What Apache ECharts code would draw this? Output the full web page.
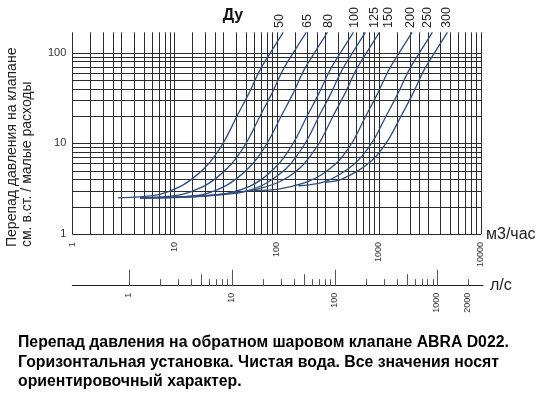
<!DOCTYPE html>
<html><head><meta charset="utf-8">
<script src="https://cdn.jsdelivr.net/npm/echarts@6/dist/echarts.min.js"></script>
<style>html,body{margin:0;padding:0;background:#fff;}#c{width:540px;height:394px;}</style>
</head><body><div id="c"></div>
<script>
// ---- data ----
const dnNames = ['50','65','80','100','125','150','200','250','300'];
const dn50  = [[2.8,2.5],[4.5,2.56],[7.3,2.75],[11.2,3.3],[15.1,4.1],[19.6,5.3],[23.8,6.8],[31.1,10.8],[40.6,19.6],[53.2,35],[68.6,64],[89.6,105],[116,167]];
const dn65  = [[4.7,2.5],[7.5,2.56],[12.2,2.75],[18.8,3.3],[25.4,4.1],[32.9,5.3],[40,6.8],[52.2,10.8],[68.2,19.6],[89.3,35],[115,64],[150,105],[195,167]];
const dn80  = [[4.6,2.5],[7.56,2.52],[12.1,2.58],[19.7,2.75],[30.2,3.3],[40.8,4.1],[52.9,5.3],[64.3,6.8],[83.9,10.8],[110,19.6],[144,35],[185,64],[242,105],[314,167]];
const dn100 = [[4.6,2.5],[8,2.5],[13.6,2.55],[21.8,2.65],[35.4,2.85],[54.4,3.35],[73.4,4.1],[95.2,5.3],[116,6.8],[151,10.8],[197,19.6],[258,35],[333,64],[435,105],[564,167]];
const dn125 = [[4.6,2.5],[10,2.55],[17.8,2.6],[28.5,2.7],[46.3,2.9],[71.2,3.4],[96.1,4.2],[125,5.3],[151,6.8],[198,10.8],[258,19.6],[338,35],[436,64],[570,105],[739,167]];
const dn150 = [[4.6,2.5],[10,2.55],[24.4,2.7],[39,2.85],[63.4,3.1],[97.6,3.6],[132,4.3],[171,5.4],[207,6.9],[271,10.8],[354,19.6],[464,35],[598,64],[781,105],[1013,167]];
const dn200 = [[60,3.0],[100,3.1],[133,3.3],[204,3.8],[275,4.5],[357,5.6],[434,7],[566,10.8],[740,19.6],[969,35],[1250,64],[1632,105],[2117,167]];
const dn250 = [[163,3.4],[250,3.6],[322,3.9],[435,4.7],[564,5.8],[685,7.2],[895,11],[1169,19.6],[1531,35],[1975,64],[2579,105],[3345,167]];
const dn300 = [[299,3.7],[400,3.9],[452,4.1],[610,4.9],[791,6],[961,7.4],[1254,11.2],[1639,19.6],[2147,35],[2769,64],[3616,105],[4690,167]];
const curves = [dn50, dn65, dn80, dn100, dn125, dn150, dn200, dn250, dn300];

const xGridLines = [1,1.5,2,2.5,3,4,5,6,7,8,9,10,15,20,25,30,40,50,60,70,80,90,100,150,200,250,300,400,500,600,700,800,900,1000,1500,2000,2500,3000,4000,5000,6000,7000,8000,9000,10000];
const yGridLines = [1,2,3,4,5,6,7,8,9,10,20,30,40,50,60,70,80,90,100];
const xMin = 1, xMax = 10000, yMin = 1, yMax = 167;

const lsMajor = [1,10,100,1000];
const lsMid = [5,50,500];
const lsMinor = [2,3,4,6,7,8,9,20,30,40,60,70,80,90,200,300,400,600,700,800,900,2000];
const lsLabels = [1,10,100,1000,2000];
const M3H_PER_LS = 3.6;

const caption = ['Перепад давления на обратном шаровом клапане ABRA D022.',
                 'Горизонтальная установка. Чистая вода. Все значения носят',
                 'ориентировочный характер.'];

// ---- chart ----
const FONT = '"Liberation Sans", Arial, sans-serif';
const GRID_COLOR = '#2b2b2b';
const CURVE_COLOR = '#2d4d7e';
const chart = echarts.init(document.getElementById('c'), null, {renderer: 'canvas'});

function isPow10(v){ const l = Math.log10(v); return Math.abs(l - Math.round(l)) < 1e-6; }

const series = [];
series.push({
  type: 'custom', xAxisIndex: 0, yAxisIndex: 0, silent: true, z: 1,
  data: xGridLines.map(v => [v, yMin]),
  renderItem: (p, api) => {
    const a = api.coord([api.value(0), yMin]);
    const b = api.coord([api.value(0), yMax]);
    const x = Math.round(a[0]) + 0.5;
    return {type: 'line', shape: {x1: x, y1: a[1], x2: x, y2: b[1]}, style: {stroke: GRID_COLOR, lineWidth: 1}};
  }
});
series.push({
  type: 'custom', xAxisIndex: 0, yAxisIndex: 0, silent: true, z: 1,
  data: yGridLines.map(v => [xMin, v]),
  renderItem: (p, api) => {
    const a = api.coord([xMin, api.value(1)]);
    const b = api.coord([xMax, api.value(1)]);
    const y = Math.round(a[1]) + 0.5;
    return {type: 'line', shape: {x1: a[0], y1: y, x2: b[0], y2: y}, style: {stroke: GRID_COLOR, lineWidth: 1}};
  }
});
curves.forEach((d, i) => {
  series.push({
    name: 'Ду ' + dnNames[i], type: 'line', data: d, xAxisIndex: 0, yAxisIndex: 0,
    smooth: 0.35, symbol: 'none', silent: true, z: 3, clip: true,
    lineStyle: {color: CURVE_COLOR, width: 1.3}
  });
});
// l/s secondary axis ticks
const lsTicks = [].concat(lsMajor.map(v => [v, 16]), lsMid.map(v => [v, 11.5]), lsMinor.map(v => [v, 6.5]));
series.push({
  type: 'custom', xAxisIndex: 1, yAxisIndex: 1, silent: true,
  data: lsTicks,
  renderItem: (p, api) => {
    const a = api.coord([api.value(0), 0]);
    const x = Math.round(a[0]) + 0.5;
    return {type: 'line', shape: {x1: x, y1: a[1], x2: x, y2: a[1] - api.value(1)}, style: {stroke: '#555', lineWidth: 1}};
  }
});
series.push({
  type: 'custom', xAxisIndex: 1, yAxisIndex: 1, silent: true,
  data: lsLabels.map(v => [v, 0]),
  renderItem: (p, api) => {
    const a = api.coord([api.value(0), 0]);
    return {type: 'text', x: Math.round(a[0]), y: a[1] + 7, rotation: Math.PI / 2,
      style: {text: String(api.value(0)), fill: '#333', font: '9px ' + FONT, align: 'right', verticalAlign: 'middle'}};
  }
});

const dnPos = [280, 308, 329, 354.5, 374.3, 388.8, 411, 428, 447];
const graphics = [
  {type: 'text', x: 233, y: 16, style: {text: 'Ду', font: 'bold 16px ' + FONT, fill: '#111', align: 'center', verticalAlign: 'middle'}},
  {type: 'text', x: 486, y: 235, style: {text: 'м3/час', font: '16px ' + FONT, fill: '#222', align: 'left', verticalAlign: 'middle'}},
  {type: 'text', x: 490, y: 286, style: {text: 'л/с', font: '16px ' + FONT, fill: '#222', align: 'left', verticalAlign: 'middle'}},
  {type: 'text', x: 5, y: 247, rotation: Math.PI / 2,
    style: {text: 'Перепад давления на клапане\nсм. в.ст. / малые расходы', font: '14px ' + FONT, lineHeight: 15, fill: '#222', align: 'left', verticalAlign: 'top'}},
  {type: 'text', x: 18, y: 333,
    style: {text: caption.join('\n'), font: 'bold 15.8px ' + FONT, lineHeight: 19.5, fill: '#000', align: 'left', verticalAlign: 'top'}}
];
dnNames.forEach((n, i) => {
  graphics.push({type: 'text', x: dnPos[i], y: 28, rotation: Math.PI / 2,
    style: {text: n, font: '12.5px ' + FONT, fill: '#222', align: 'left', verticalAlign: 'middle'}});
});

chart.setOption({
  animation: false,
  backgroundColor: '#fff',
  grid: [
    {left: 72.3, right: 59, top: 32.3, bottom: 160},
    {left: 72.3, right: 57, top: 270, height: 15.7}
  ],
  xAxis: [
    {type: 'log', logBase: 10, min: xMin, max: xMax, gridIndex: 0,
      axisLine: {show: false}, axisTick: {show: false}, splitLine: {show: false},
      axisLabel: {rotate: 90, margin: 8, fontSize: 9, fontFamily: FONT, color: '#333',
        formatter: v => isPow10(v) ? String(Math.round(v)) : ''}},
    {type: 'log', logBase: 10, min: xMin / M3H_PER_LS, max: xMax / M3H_PER_LS * 1.0, gridIndex: 1,
      axisLine: {show: true, onZero: false, lineStyle: {color: '#222', width: 1}},
      axisTick: {show: false}, splitLine: {show: false}, axisLabel: {show: false}}
  ],
  yAxis: [
    {type: 'log', logBase: 10, min: yMin, max: yMax, gridIndex: 0,
      axisLine: {show: false}, axisTick: {show: false}, splitLine: {show: false},
      axisLabel: {margin: 6, fontSize: 11, fontFamily: FONT, color: '#333',
        formatter: v => isPow10(v) ? String(Math.round(v)) : ''}},
    {type: 'value', min: 0, max: 1, gridIndex: 1, show: false}
  ],
  series: series,
  graphic: graphics
});
</script></body></html>
